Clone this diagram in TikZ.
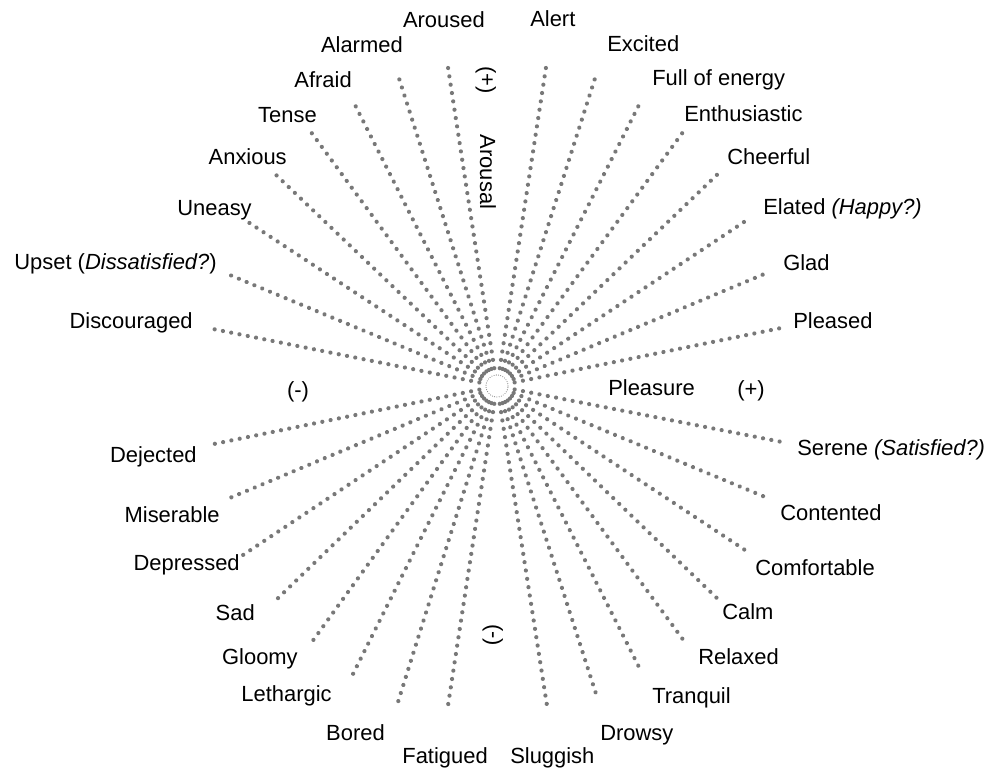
\documentclass[tikz,border=0pt]{standalone}
\usepackage{fontspec}
\setmainfont{Liberation Sans}
\usepackage{tikz}
\usetikzlibrary{calc}
\usetikzlibrary{decorations,decorations.markings}
\definecolor{dotgray}{RGB}{120,120,120}
\tikzstyle{ray}=[decoration={markings, mark=between positions 0 and 1 step 6pt with {\fill[dotgray] (0,0) circle (1.5pt);}}, decorate]
\tikzstyle{hub}=[decoration={markings, mark=between positions 0 and 1 step 1.6pt with {\fill[dotgray] (0,0) circle (0.4pt);}}, decorate]
\tikzstyle{mood}=[font=\fontsize{15.6}{18}\selectfont, inner sep=0pt, text height=11.2pt, text depth=0pt]

\begin{document}
\begin{tikzpicture}[x=0.025cm, y=0.025cm]
	\useasboundingbox (-497,-383) rectangle (496,386);
	\coordinate (c) at (0,0);
	\path[hub] (c) circle (11);
%
	% right half: ray end, then left edge of its label
	\foreach \n/\ex/\ey/\lx/\ly/\txt in {
		alert/50/325/33/367/{Alert},
		excited/100/314/110/342/{Excited},
		energy/145/287/155/308/{Full of energy},
		enthus/189/258/187/272/{Enthusiastic},
		cheerful/225/216/230/229/{Cheerful},
		elated/253/168/266/179/{Elated \textit{(Happy?)}},
		glad/272/114/286/123/{Glad},
		pleased/289/59/296/65/{Pleased},
		serene/290/-57/300/-62/{Serene \textit{(Satisfied?)}},
		contented/273/-113/283/-127/{Contented},
		comfort/254/-168/258/-182/{Comfortable},
		calm/225/-217/225/-226/{Calm},
		relaxed/190/-259/201/-271/{Relaxed},
		tranquil/145/-287/155/-310/{Tranquil},
		drowsy/101/-314/103/-347/{Drowsy},
		sluggish/51/-326/13/-370/{Sluggish}}{
		\coordinate (e\n) at (\ex,\ey);
		\coordinate (s\n) at ($(c)!0.45cm!(e\n)$);
		\path[ray] (s\n) -- (e\n);
		\node[mood, anchor=west] (l\n) at (\lx,\ly) {\txt};
	}
%
	% left half: ray end, then right edge of its label
	\foreach \n/\ex/\ey/\lx/\ly/\txt in {
		aroused/-50/325/-12/366/{Aroused},
		alarmed/-100/314/-94/341/{Alarmed},
		afraid/-145/287/-145/306/{Afraid},
		tense/-189/258/-180/271/{Tense},
		anxious/-224/214/-210/229/{Anxious},
		uneasy/-252/166/-245/178/{Uneasy},
		upset/-272/113/-280/124/{Upset (\textit{Dissatisfied?})},
		discour/-289/58/-304/65/{Discouraged},
		dejected/-288/-59/-300/-69/{Dejected},
		miserable/-272/-114/-277/-129/{Miserable},
		depressed/-254/-169/-257/-177/{Depressed},
		sad/-224/-217/-242/-227/{Sad},
		gloomy/-188/-260/-199/-271/{Gloomy},
		lethargic/-144/-288/-165/-308/{Lethargic},
		bored/-99/-316/-112/-347/{Bored},
		fatigued/-50/-326/-9/-370/{Fatigued}}{
		\coordinate (e\n) at (\ex,\ey);
		\coordinate (s\n) at ($(c)!0.45cm!(e\n)$);
		\path[ray] (s\n) -- (e\n);
		\node[mood, anchor=east] (l\n) at (\lx,\ly) {\txt};
	}
%
	\node[mood, anchor=west] (pleasure) at (111,-2) {Pleasure};
	\node[mood, anchor=west] (pplus) at (240,-3) {(+)};
	\node[mood] (pminus) at (-199,-4) {(-)};
	\node[mood, rotate=-90] (arousal) at (-9,214) {Arousal};
	\node[mood, rotate=-90] (aplus) at (-9,306) {(+)};
	\node[mood, rotate=-90] (aminus) at (-2,-249) {(-)};
\end{tikzpicture}
\end{document}
